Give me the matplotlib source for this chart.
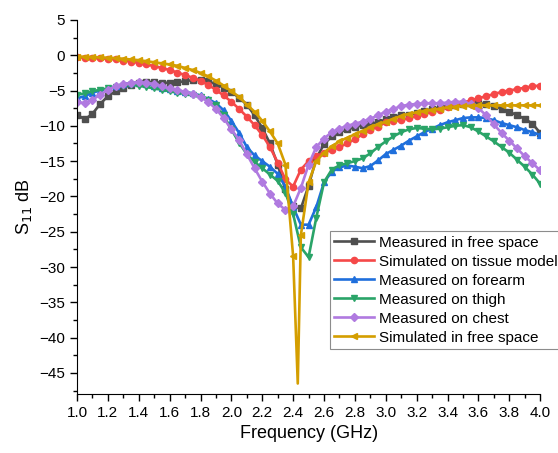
import numpy as np
import matplotlib.pyplot as plt
from matplotlib.ticker import MultipleLocator

plt.rcParams['font.family'] = ['Liberation Sans', 'DejaVu Sans']

# frequency grid (GHz), 0.05 GHz steps
freq = [round(1.0 + 0.05 * i, 2) for i in range(61)]

meas_free = [-8.4, -9.1, -8.3, -6.9, -5.8, -5.1, -4.6, -4.2, -3.9, -3.8,
             -3.8, -3.9, -3.9, -3.8, -3.7, -3.5, -3.5, -3.7, -4.1, -4.6,
             -5.2, -6.0, -7.0, -8.5, -10.3, -12.5, -15.5, -19.0, -21.4, -21.7,
             -18.5, -14.6, -12.6, -11.5, -10.9, -10.5, -10.2, -9.9, -9.7, -9.5,
             -9.1, -8.7, -8.5, -8.4, -8.2, -7.9, -7.6, -7.4, -7.2, -7.0,
             -6.9, -6.8, -6.8, -6.9, -7.2, -7.6, -8.0, -8.5, -9.0, -9.7, -11.0]

sim_tissue = [-0.3, -0.35, -0.4, -0.45, -0.5, -0.6, -0.75, -0.9, -1.1, -1.3,
              -1.55, -1.8, -2.1, -2.45, -2.8, -3.2, -3.6, -4.2, -4.9, -5.7,
              -6.6, -7.6, -8.7, -9.9, -11.3, -13.0, -15.2, -17.6, -18.6, -16.2,
              -15.0, -14.3, -13.8, -13.4, -13.0, -12.5, -11.9, -11.2, -10.6, -10.1,
              -9.5, -9.3, -9.2, -8.9, -8.6, -8.3, -8.0, -7.7, -7.4, -7.0,
              -6.7, -6.4, -6.1, -5.8, -5.5, -5.2, -5.0, -4.8, -4.6, -4.4, -4.3]

forearm = [-6.1, -5.8, -5.3, -5.0, -4.7, -4.4, -4.1, -3.9, -3.9, -4.1,
           -4.3, -4.6, -4.8, -5.0, -5.2, -5.4, -5.7, -6.2, -6.8, -7.8,
           -9.3, -11.0, -13.0, -14.2, -15.0, -15.8, -16.8, -18.6, -21.5, -24.0,
           -24.0, -21.5, -18.0, -16.5, -15.9, -15.6, -15.8, -16.0, -15.7, -14.9,
           -14.0, -13.4, -12.8, -12.1, -11.5, -10.9, -10.4, -9.9, -9.5, -9.2,
           -8.9, -8.8, -8.8, -8.9, -9.2, -9.6, -9.9, -10.2, -10.6, -10.9, -11.3]

thigh = [-5.6, -5.4, -5.1, -4.9, -4.7, -4.5, -4.3, -4.2, -4.3, -4.5,
         -4.7, -4.9, -5.1, -5.3, -5.5, -5.7, -5.9, -6.4, -7.1, -8.5,
         -10.5, -12.4, -14.0, -15.1, -16.0, -16.9, -17.8, -19.5, -22.5, -27.2,
         -28.6, -23.0, -18.0, -16.2, -15.6, -15.3, -15.0, -14.6, -13.9, -13.0,
         -12.2, -11.5, -10.9, -10.5, -10.3, -10.4, -10.5, -10.4, -10.2, -10.0,
         -9.9, -10.2, -10.8, -11.5, -12.2, -13.0, -13.8, -14.8, -15.8, -16.9, -18.2]

chest = [-6.6, -6.8, -6.3, -5.6, -4.9, -4.4, -4.1, -3.9, -3.8, -3.9,
         -4.1, -4.4, -4.7, -4.9, -5.2, -5.5, -5.9, -6.6, -7.6, -8.9,
         -10.5, -12.0, -14.0, -16.0, -17.9, -19.6, -21.0, -21.9, -21.4, -18.8,
         -15.5, -13.0, -11.8, -10.9, -10.4, -10.0, -9.7, -9.4, -9.0, -8.5,
         -8.0, -7.6, -7.2, -7.0, -6.9, -6.8, -6.8, -6.8, -6.7, -6.6,
         -6.6, -6.9, -7.5, -8.5, -9.8, -11.0, -12.1, -13.2, -14.3, -15.3, -16.3]

# simulated free space has one extra sample at the resonance (2.43 GHz)
sim_free_freq = freq[:29] + [2.43] + freq[29:]
sim_free = [-0.2, -0.2, -0.25, -0.3, -0.35, -0.4, -0.5, -0.6, -0.7, -0.85,
            -1.0, -1.15, -1.3, -1.5, -1.8, -2.1, -2.5, -3.0, -3.6, -4.3,
            -5.1, -5.9, -7.0, -8.0, -9.3, -10.8, -12.5, -15.5, -28.5, -46.5,
            -25.5, -18.0, -15.0, -13.8, -12.9, -12.2, -11.7, -11.2, -10.7, -10.2,
            -9.8, -9.4, -9.0, -8.6, -8.3, -8.1, -7.9, -7.7, -7.6, -7.4,
            -7.3, -7.2, -7.15, -7.1, -7.1, -7.1, -7.1, -7.1, -7.1, -7.1, -7.1, -7.1]

series = [
    (freq, meas_free, 'Measured in free space', '#4f4f4f', 's'),
    (freq, sim_tissue, 'Simulated on tissue model', '#f54848', 'o'),
    (freq, forearm, 'Measured on forearm', '#1f6fdc', '^'),
    (freq, thigh, 'Measured on thigh', '#2aa468', 'v'),
    (freq, chest, 'Measured on chest', '#b07ae0', 'D'),
    (sim_free_freq, sim_free, 'Simulated in free space', '#d49e00', '<'),
]

fig, ax = plt.subplots(figsize=(5.58, 4.53), dpi=100)
fig.subplots_adjust(left=0.138, right=0.968, top=0.956, bottom=0.130)

for x, y, lab, col, mk in series:
    me = [i for i in range(len(x)) if x[i] != 2.43]
    ax.plot(x, y, color=col, lw=1.9, marker=mk, ms=4.5 if mk != 'D' else 4,
            markevery=me, label=lab)

ax.set_xlim(1.0, 4.0)
ax.set_ylim(-48, 5)
ax.xaxis.set_major_locator(MultipleLocator(0.2))
ax.xaxis.set_minor_locator(MultipleLocator(0.1))
ax.yaxis.set_major_locator(MultipleLocator(5))
ax.yaxis.set_minor_locator(MultipleLocator(2.5))
ax.xaxis.set_major_formatter(plt.FuncFormatter(lambda v, p: '%.1f' % v))
ax.spines['top'].set_visible(False)
ax.spines['right'].set_visible(False)
ax.tick_params(which='major', direction='out', length=5, width=1, labelsize=11)
ax.tick_params(which='minor', direction='out', length=3, width=1)
ax.set_xlabel('Frequency (GHz)', fontsize=13)
ax.set_ylabel('S$_{11}$ dB', fontsize=13)

leg = ax.legend(loc='upper left', bbox_to_anchor=(0.546, 0.436), fontsize=11,
                fancybox=False, edgecolor='#8c8c8c', framealpha=1,
                handlelength=2.6, labelspacing=0.33, borderpad=0.3,
                handletextpad=0.3, borderaxespad=0)
leg.get_frame().set_linewidth(0.8)

fig.savefig('out.png')
